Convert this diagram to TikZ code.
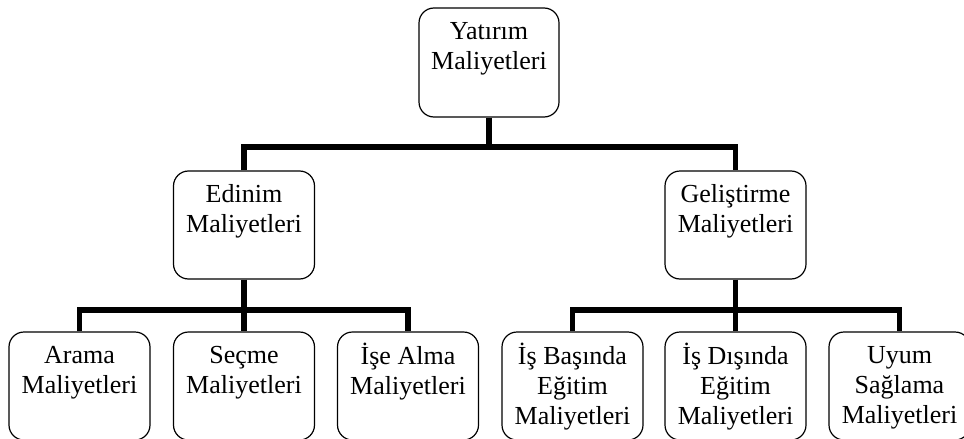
\documentclass[tikz,border=0pt]{standalone}
\usepackage{fontspec}
\setmainfont{Liberation Serif}
\begin{document}
\begin{tikzpicture}[x=1pt,y=-1pt,
  box/.style={draw, line width=1.2pt, rounded corners=15pt, minimum width=141pt, inner sep=0pt},
  lbl/.style={anchor=north, align=center, inner sep=0pt, font=\fontsize{26}{30}\selectfont},
  conn/.style={line width=5.5pt}]
\useasboundingbox (0,0) rectangle (964,439);
\clip (0,0) rectangle (964,439);
% top
\node[box, minimum width=140pt, minimum height=109pt] (top) at (489,62.5) {};
\node[lbl] (topt) at (489,18.5) {\strut Yatırım\\Maliyetleri};
% middle
\node[box, minimum height=108pt] (ed) at (244,225) {};
\node[lbl] (edt) at (244,181.5) {\strut Edinim\\Maliyetleri};
\node[box, minimum height=108pt] (gel) at (735.5,225) {};
\node[lbl] (gelt) at (735.5,181.5) {\strut Geliştirme\\Maliyetleri};
% leaves
\node[box, minimum height=108pt] (l1) at (79.5,386) {};
\node[lbl] (l1t) at (79.5,342.5) {\strut Arama\\Maliyetleri};
\node[box, minimum height=108pt] (l2) at (244,386) {};
\node[lbl] (l2t) at (244,342.5) {\strut Seçme\\Maliyetleri};
\node[box, minimum height=108pt] (l3) at (408,386) {};
\node[lbl] (l3t) at (408,342.5) {\strut İşe Alma\\Maliyetleri};
\node[box, minimum height=108pt] (r1) at (572.5,386) {};
\node[lbl] (r1t) at (572.5,342.5) {\strut İş Başında\\Eğitim\\Maliyetleri};
\node[box, minimum height=108pt] (r2) at (735.5,386) {};
\node[lbl] (r2t) at (735.5,342.5) {\strut İş Dışında\\Eğitim\\Maliyetleri};
\node[box, minimum height=108pt] (r3) at (899.5,386) {};
\node[lbl] (r3t) at (899.5,342.5) {\strut Uyum\\Sağlama\\Maliyetleri};
% connectors
\coordinate (b0) at (489,147);
\coordinate (b1) at (244,310);
\coordinate (b2) at (735.5,310);
\draw[conn] (top.south) -- (b0);
\draw[conn] (ed.north) |- (b0) -| (gel.north);
\draw[conn] (ed.south) -- (b1);
\draw[conn] (l1.north) |- (b1) -| (l3.north);
\draw[conn] (b1) -- (l2.north);
\draw[conn] (gel.south) -- (b2);
\draw[conn] (r1.north) |- (b2) -| (r3.north);
\draw[conn] (b2) -- (r2.north);
\end{tikzpicture}
\end{document}
